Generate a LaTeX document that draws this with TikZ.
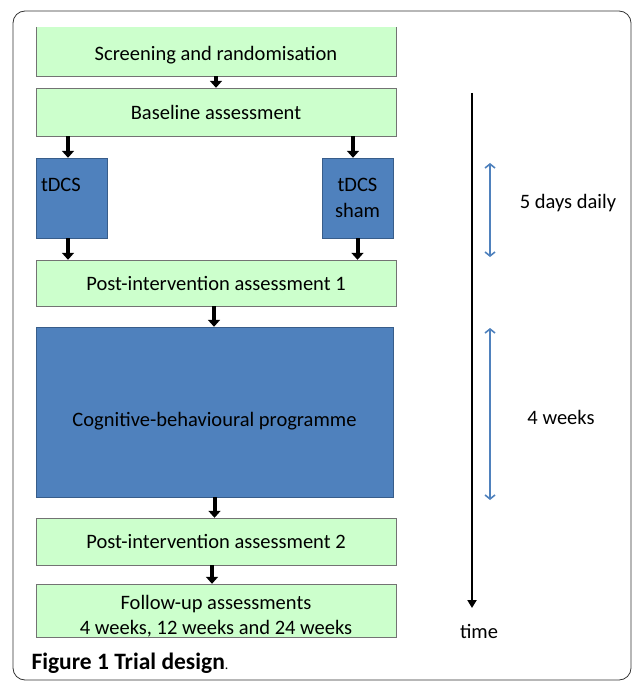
\documentclass[tikz,border=0pt]{standalone}
\usepackage{fontspec}
\setmainfont{Carlito}
\usepackage{tikz}
\usetikzlibrary{arrows.meta}
\usetikzlibrary{positioning}
\definecolor{stagegreen}{RGB}{204,255,204}
\definecolor{armblue}{RGB}{79,129,189}
\definecolor{armline}{RGB}{56,93,138}
\newcommand{\lift}[1]{\rule{0pt}{#1}}

\begin{document}
\begin{tikzpicture}[
		x=1pt,y=-1pt,
		>={Triangle[length=7pt,width=12pt]},
		stage/.style={draw=black!55,fill=stagegreen,minimum width=360pt,inner sep=0pt,align=center,font=\fontsize{20.5}{25}\selectfont},
		arm/.style={draw=armline,fill=armblue,minimum width=71pt,minimum height=80pt,text width=61pt,inner sep=5pt,font=\fontsize{20.5}{26}\selectfont},
		flow/.style={->,line width=4pt},
		span/.style={{Straight Barb[length=4pt,width=10pt]}-{Straight Barb[length=4pt,width=10pt]},line width=1.6pt,draw=armblue},
		note/.style={font=\fontsize{20.5}{25}\selectfont}
	]
	\useasboundingbox (0,0) rectangle (633,684);
	\draw [black!80,line width=0.8pt,rounded corners=12pt] (13,11) rectangle (631,680);

	\node [stage,draw=none,minimum height=49pt] (scr) at (216,51.5) {\lift{21pt}Screening and randomisation};
	\draw [black!55] (scr.north west) -- (scr.south west) -- (scr.south east) -- (scr.north east);
	\node [stage,minimum height=48pt] (base) at (216,112) {Baseline assessment};
	\node [arm,align=left] (tdcs) at (71.5,198) {tDCS\\\mbox{}};
	\node [arm,align=center] (sham) at (357.5,198) {tDCS\\sham};
	\node [stage,minimum height=46pt] (post1) at (216,283) {Post-intervention assessment 1};
	\node [draw=armline,fill=armblue,minimum width=357pt,minimum height=170pt,font=\fontsize{20.5}{25}\selectfont] (cbt) at (214.5,412) {\lift{33pt}Cognitive-behavioural programme};
	\node [stage,minimum height=53pt] (fu) at (216,610.5) {\lift{25pt}Follow-up assessments\\4 weeks, 12 weeks and 24 weeks};
	\node [stage,minimum height=47pt] (post2) at (216,541.5) {Post-intervention assessment 2};

	\draw [flow] (scr.south) -- (base.north);
	\draw [flow] ([xshift=-3.5pt]tdcs.north |- base.south) -- ([xshift=-3.5pt]tdcs.north);
	\draw [flow] ([xshift=-4.5pt]sham.north |- base.south) -- ([xshift=-4.5pt]sham.north);
	\draw [flow] ([xshift=-3.5pt]tdcs.south) -- ([xshift=-3.5pt]tdcs.south |- post1.north);
	\draw [flow] (sham.south) -- (sham.south |- post1.north);
	\draw [flow] ([xshift=-2pt]post1.south) -- ([xshift=-2pt]post1.south |- cbt.north);
	\draw [flow] (cbt.south) -- (cbt.south |- post2.north);
	\draw [flow] ([xshift=-4pt]post2.south) -- ([xshift=-4pt]post2.south |- fu.north);

	\coordinate (t0) at (472,93);
	\coordinate (t1) at (472,608);
	\draw [->,line width=2.6pt,>={Triangle[length=8pt,width=9pt]}] (t0) -- (t1);
	\node [note,anchor=center] (time) at (479,631) {time};

	\coordinate (d0) at (490,163);
	\coordinate (d1) at (490,257);
	\draw [span] (d0) -- (d1);
	\node [note] (days) at (568,203) {5 days daily};

	\coordinate (w0) at (490,328);
	\coordinate (w1) at (490,500);
	\draw [span] (w0) -- (w1);
	\node [note] (weeks) at (561,417) {4 weeks};

	\node [anchor=west,font=\fontsize{23.5}{26}\selectfont] (cap) at (28,663) {\textbf{Figure 1 Trial design}{\fontsize{14}{16}\selectfont.}};
\end{tikzpicture}
\end{document}
